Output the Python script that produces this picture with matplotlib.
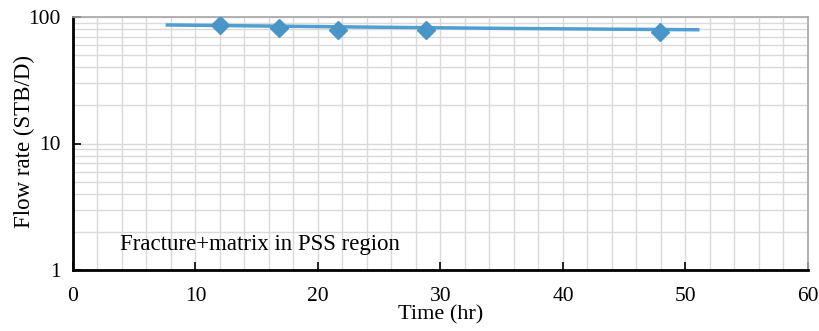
import numpy as np
import matplotlib.pyplot as plt
from matplotlib.ticker import FixedLocator, LogLocator, FormatStrFormatter, NullFormatter

# model curve
model_t = [7.7, 15, 25, 35, 45, 51]
model_q = [86.5, 85.0, 83.0, 81.3, 80.0, 79.3]

# measured points
meas_t = [12.0, 16.8, 21.6, 28.8, 47.9]
meas_q = [86.5, 81.8, 79.0, 79.0, 76.0]

xticks = [0, 10, 20, 30, 40, 50, 60]

plt.rcParams['font.family'] = ['Liberation Serif', 'DejaVu Serif']

fig = plt.figure(figsize=(8.2, 3.31), dpi=100)
ax = fig.add_axes([73 / 820, 1 - 270 / 331, (808 - 73) / 820, (270 - 17) / 331])

ax.set_yscale('log')
ax.set_xlim(0, 60)
ax.set_ylim(1, 100)

ax.xaxis.set_major_locator(FixedLocator(xticks))
ax.xaxis.set_minor_locator(FixedLocator(np.arange(0, 61, 2)))
ax.yaxis.set_major_locator(FixedLocator([1, 10, 100]))
ax.yaxis.set_major_formatter(FormatStrFormatter('%g'))
ax.yaxis.set_minor_locator(LogLocator(base=10, subs=np.arange(2, 10)))
ax.yaxis.set_minor_formatter(NullFormatter())

ax.grid(which='both', color='#d9d9d9', linewidth=1.0, zorder=0)
ax.set_axisbelow(True)

ax.tick_params(which='major', direction='in', length=6, width=1.2, labelsize=15.5)
ax.tick_params(axis='x', pad=12)
ax.tick_params(axis='y', pad=9)
ax.tick_params(which='minor', length=0)
for lbl in ax.get_yticklabels():
    lbl.set_va('center_baseline')

for s in ['left', 'bottom']:
    ax.spines[s].set_linewidth(2)
    ax.spines[s].set_color('black')
for s in ['top', 'right']:
    ax.spines[s].set_linewidth(1.2)
    ax.spines[s].set_color('#a6a6a6')

ax.plot(model_t, model_q, color='#4f9fd0', linewidth=2.5, zorder=3)
ax.plot(meas_t, meas_q, linestyle='none', marker='D', markersize=9,
        color='#4a95c8', zorder=4)

ax.text(3.8, 1.58, 'Fracture+matrix in PSS region', fontsize=16.5, ha='left', va='center')

ax.set_xlabel('Time (hr)', fontsize=16, labelpad=0)
ax.set_ylabel('Flow rate (STB/D)', fontsize=16.5)
ax.yaxis.set_label_coords(-0.052, 0.508)

fig.savefig('out.png', dpi=100)
